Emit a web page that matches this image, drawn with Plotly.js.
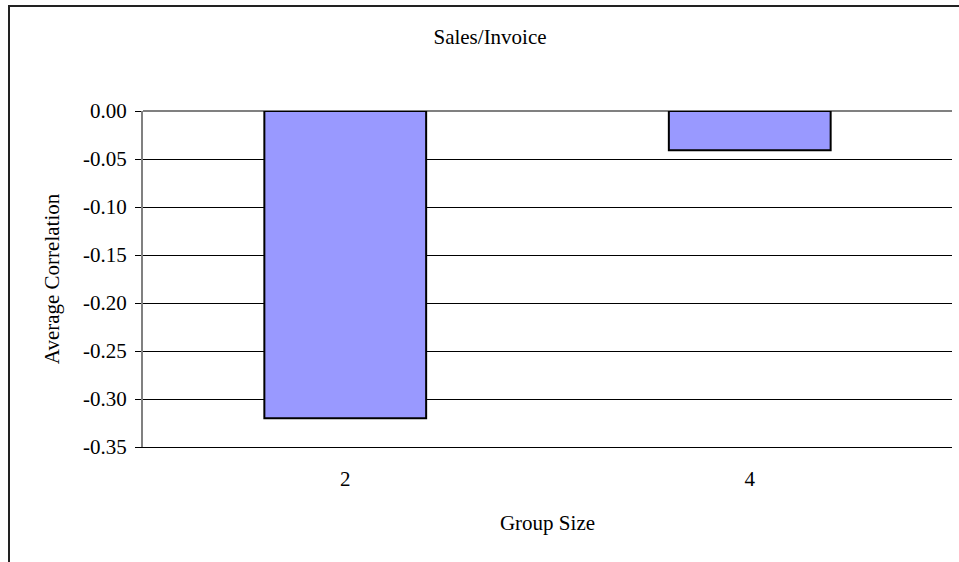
<!DOCTYPE html>
<html>
<head>
<meta charset="utf-8">
<script src="https://cdn.plot.ly/plotly-3.0.1.min.js"></script>
<style>
  html, body { margin: 0; padding: 0; background: #fff; overflow: hidden; }
  #chart { width: 959px; height: 562px; position: absolute; left: 0; top: 0; }
  #frame { position: absolute; left: 8px; top: 5px; width: 2000px; height: 2000px;
           border-top: 2px solid #222; border-left: 2px solid #222; pointer-events: none; }
</style>
</head>
<body>
<div id="chart"></div>
<div id="frame"></div>
<script>
// Average correlation of Sales/Invoice by group size
const groupSizes = ["2", "4"];
const avgCorrelation = [-0.32, -0.041];

const yTickVals = [0, -0.05, -0.10, -0.15, -0.20, -0.25, -0.30, -0.35];
const yTickLabels = ["0.00", "-0.05", "-0.10", "-0.15", "-0.20", "-0.25", "-0.30", "-0.35"];

// a fresh font object for every text element
function serifFont() {
  return { family: "Liberation Serif", size: 21, color: "#000000" };
}

const trace = {
  type: "bar",
  x: groupSizes,
  y: avgCorrelation,
  width: 0.4,
  marker: { color: "#9999FF", line: { color: "#000000", width: 2 } },
  hoverinfo: "x+y"
};

const layout = {
  width: 959,
  height: 562,
  margin: { l: 143, r: 7, t: 111, b: 115 },
  paper_bgcolor: "#ffffff",
  plot_bgcolor: "#ffffff",
  showlegend: false,
  font: serifFont(),
  title: {
    text: "Sales/Invoice",
    font: serifFont(),
    xref: "container", x: 0.511, xanchor: "center",
    yref: "container", y: 0.934, yanchor: "middle"
  },
  xaxis: {
    type: "category",
    range: [-0.5, 1.5],
    showgrid: false,
    showline: true,          // closes the plot with the -0.35 line
    linecolor: "#000",
    linewidth: 1,
    zeroline: false,
    ticks: "",
    ticklabelstandoff: 13,
    tickfont: serifFont(),
    title: { text: "Group Size", standoff: 25, font: serifFont() },
    automargin: false,
    fixedrange: true
  },
  // category axis drawn along the zero line at the top of the plot
  xaxis2: {
    overlaying: "x",
    anchor: "y",
    side: "top",
    type: "linear",
    range: [-0.5, 1.5],
    tickvals: [0, 1, 1.5],
    ticks: "inside",
    ticklen: 5,
    tickwidth: 1.5,
    tickcolor: "#808080",
    showticklabels: false,
    showgrid: false,
    zeroline: false,
    showline: true,
    linecolor: "#808080",
    linewidth: 2,
    layer: "above traces",
    fixedrange: true
  },
  yaxis: {
    range: [-0.35, 0],
    tickvals: yTickVals,
    ticktext: yTickLabels,
    ticks: "outside",
    ticklen: 6,
    tickwidth: 1,
    tickcolor: "#000",
    ticklabelstandoff: 4,
    tickfont: serifFont(),
    showgrid: true,
    gridcolor: "#000",
    gridwidth: 1,
    zeroline: true,
    zerolinecolor: "#808080",
    zerolinewidth: 2,
    showline: true,
    linecolor: "#808080",
    linewidth: 2,
    title: { text: "Average Correlation", standoff: 18, font: serifFont() },
    automargin: false,
    fixedrange: true
  }
};

Plotly.newPlot("chart", [trace], layout, { displayModeBar: false, staticPlot: true });
</script>
</body>
</html>
